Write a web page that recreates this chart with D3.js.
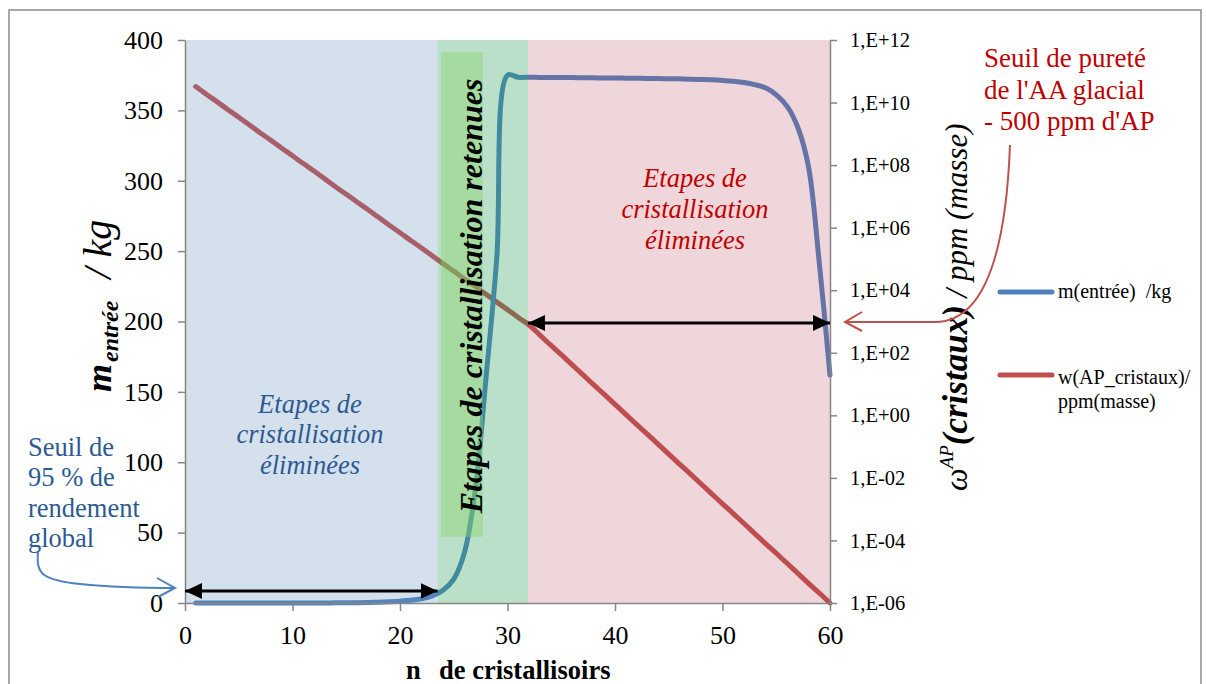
<!DOCTYPE html>
<html><head><meta charset="utf-8">
<script src="https://cdn.jsdelivr.net/npm/d3@7/dist/d3.min.js"></script>
<style>
body{margin:0;background:#fff}
svg{display:block}
text{font-family:"Liberation Serif","Times New Roman",serif}
</style>
</head><body>
<svg id="chart" width="1206" height="684"></svg>
<script>
// ---------- DATA ----------
const nCristallisoirs = [1,2,3,4,5,6,7,8,9,10,11,12,13,14,15,16,17,18,19,20,21,22,23,24,25,26,27,28,29,30,
  31,32,33,34,35,36,37,38,39,40,41,42,43,44,45,46,47,48,49,50,51,52,53,54,55,56,57,58,59,60];
// m(entrée) /kg  (left axis)
const mEntree = [0,0,0,0,0,0,0.01,0.01,0.01,0.02,0.03,0.05,0.08,0.1,0.15,0.22,0.35,0.6,0.9,1.3,
  1.9,3.0,5,9,17,36,80,160,245,375,
  373.5,373.5,373.4,373.4,373.3,373.3,373.2,373.1,373.0,373.0,372.9,372.8,372.7,372.6,372.5,372.4,372.2,372.0,371.7,371.3,
  370.7,369.8,368.3,366,361,353,338,310,242,162];
// w(AP_cristaux) / ppm(masse)  (right log axis)
const wAPcristaux = [3.24e10,1.82e10,1.05e10,5.89e9,3.39e9,1.91e9,1.07e9,6.17e8,3.47e8,2.00e8,
  1.12e8,6.46e7,3.63e7,2.04e7,1.17e7,6.61e6,3.80e6,2.14e6,1.20e6,6.92e5,
  3.89e5,2.24e5,1.26e5,7.08e4,4.07e4,2.29e4,1.32e4,7.41e3,4.17e3,2.40e3,
  1.35e3,776,372,178,87.1,41.7,20.0,9.55,4.68,2.24,
  1.07,0.513,0.251,0.120,0.0575,0.0275,0.0135,0.00646,0.00309,0.00148,
  7.24e-4,3.47e-4,1.66e-4,7.94e-5,3.89e-5,1.86e-5,8.91e-6,4.27e-6,2.09e-6,1.0e-6];
const xTicks = [0,10,20,30,40,50,60];
const leftTicks = [0,50,100,150,200,250,300,350,400];
const rightTicks = [1e-6,1e-4,1e-2,1e0,1e2,1e4,1e6,1e8,1e10,1e12];
const regionBounds = [0, 23.5, 31.9, 60];   // éliminées | retenues | éliminées
const legendLabels = [["m(entrée)  /kg"], ["w(AP_cristaux)/", "ppm(masse)"]];
const seriesColors = ["#4f81bd", "#c0504d"];

// ---------- SETUP ----------
const SERIF = '"Liberation Serif","Times New Roman",serif';
const svg = d3.select("#chart");
const x = d3.scaleLinear().domain([0, 60]).range([185, 830]);
const yL = d3.scaleLinear().domain([0, 400]).range([603, 40]);
const yR = d3.scaleLog().domain([1e-6, 1e12]).range([603, 40]);

// outer frame
svg.append("rect").attr("x", 9).attr("y", 10).attr("width", 1192).attr("height", 700)
  .attr("fill", "none").attr("stroke", "#8c8c8c").attr("stroke-width", 1.5);

// arrow markers
const defs = svg.append("defs");
defs.append("marker").attr("id", "ah").attr("markerUnits", "userSpaceOnUse")
  .attr("markerWidth", 20).attr("markerHeight", 18).attr("refX", 17).attr("refY", 8)
  .attr("orient", "auto-start-reverse")
  .append("path").attr("d", "M0,0 L17,8 L0,16 Z").attr("fill", "#000");

// ---------- LINES (under translucent bands) ----------
const dataM = nCristallisoirs.map((n, i) => ({n, v: mEntree[i]}));
const dataW = nCristallisoirs.map((n, i) => ({n, v: wAPcristaux[i]}));
const curve = d3.curveCatmullRom.alpha(0.5);
svg.append("path").datum(dataW)
  .attr("d", d3.line().x(d => x(d.n)).y(d => yR(d.v)).curve(curve))
  .attr("fill", "none").attr("stroke", seriesColors[1]).attr("stroke-width", 5).attr("stroke-linecap", "round");
svg.append("path").datum(dataM)
  .attr("d", d3.line().x(d => x(d.n)).y(d => yL(d.v)).curve(curve))
  .attr("fill", "none").attr("stroke", seriesColors[0]).attr("stroke-width", 5).attr("stroke-linecap", "round");

// ---------- BANDS ----------
const bandFill = [["rgb(100,140,190)", 0.27], ["rgb(40,160,90)", 0.32], ["rgb(180,70,85)", 0.22]];
for (let i = 0; i < 3; i++) {
  svg.append("rect")
    .attr("x", x(regionBounds[i])).attr("y", yL(400))
    .attr("width", x(regionBounds[i + 1]) - x(regionBounds[i]))
    .attr("height", yL(0) - yL(400))
    .attr("fill", bandFill[i][0]).attr("fill-opacity", bandFill[i][1]);
}
// inner bright green box behind the vertical label
svg.append("rect")
  .attr("x", x(23.8)).attr("y", yL(391.5))
  .attr("width", x(27.7) - x(23.8)).attr("height", yL(47) - yL(391.5))
  .attr("fill", "rgb(140,210,110)").attr("fill-opacity", 0.45);

// ---------- AXES ----------
const axisColor = "#868686";
function styleAxis(g, size) {
  g.attr("font-family", null);
  g.select(".domain").attr("stroke", axisColor).attr("stroke-width", 1.5);
  g.selectAll(".tick line").attr("stroke", axisColor).attr("stroke-width", 1.5);
  g.selectAll(".tick text").attr("fill", "#000").style("font-size", size + "px");
}
const gL = svg.append("g").attr("transform", `translate(${x(0)},0)`)
  .call(d3.axisLeft(yL).tickValues(leftTicks).tickSize(7).tickPadding(15).tickSizeOuter(0));
styleAxis(gL, 26);
const gR = svg.append("g").attr("transform", `translate(${x(60)},0)`)
  .call(d3.axisRight(yR).tickValues(rightTicks).tickSize(7).tickPadding(13).tickSizeOuter(0)
    .tickFormat(d => { const e = Math.round(Math.log10(d)); return "1,E" + (e >= 0 ? "+" : "-") + String(Math.abs(e)).padStart(2, "0"); }));
styleAxis(gR, 20.5);
const gB = svg.append("g").attr("transform", `translate(0,${yL(0)})`)
  .call(d3.axisBottom(x).tickValues(xTicks).tickSize(8).tickPadding(15).tickSizeOuter(0));
styleAxis(gB, 26);

// ---------- AXIS TITLES ----------
const tl = svg.append("text").attr("transform", "translate(111,392) rotate(-90)").attr("text-anchor", "start");
tl.append("tspan").text("m").style("font-weight", "bold").style("font-style", "italic").style("font-size", "36px");
tl.append("tspan").text("entrée").attr("dx", 2).attr("dy", 7).style("font-weight", "bold").style("font-style", "italic").style("font-size", "24px");
tl.append("tspan").text(" / kg").attr("dx", 12).attr("dy", -7).style("font-style", "italic").style("font-size", "40px");

const tr = svg.append("text").attr("transform", "translate(967,491) rotate(-90)").attr("text-anchor", "start");
tr.append("tspan").text("ω").style("font-style", "italic").style("font-size", "32px");
tr.append("tspan").text("AP").attr("dy", -14).style("font-style", "italic").style("font-size", "19px");
tr.append("tspan").text("(cristaux)").attr("dy", 14).style("font-weight", "bold").style("font-style", "italic").style("font-size", "35px");
tr.append("tspan").text(" / ppm (masse)").style("font-style", "italic").style("font-size", "31px");

const tb = svg.append("text").attr("y", 679).style("font-weight", "bold").style("font-size", "26.5px");
tb.append("tspan").attr("x", 406).text("n");
tb.append("tspan").attr("x", 439).text("de cristallisoirs");

// ---------- REGION LABELS ----------
const blueTxt = "#2c5a92", redTxt = "#c00000";
[["Etapes de", 413], ["cristallisation", 443], ["éliminées", 474]].forEach(([t, yy]) =>
  svg.append("text").attr("x", 310).attr("y", yy).attr("text-anchor", "middle")
    .style("font-style", "italic").style("font-size", "26.5px").attr("fill", blueTxt).text(t));
[["Etapes de", 187], ["cristallisation", 218], ["éliminées", 249]].forEach(([t, yy]) =>
  svg.append("text").attr("x", 695).attr("y", yy).attr("text-anchor", "middle")
    .style("font-style", "italic").style("font-size", "26.5px").attr("fill", redTxt).text(t));
svg.append("text").attr("transform", "translate(482,296) rotate(-90)").attr("text-anchor", "middle")
  .style("font-style", "italic").style("font-weight", "bold").style("font-size", "32px").attr("fill", "#000")
  .text("Etapes de cristallisation retenues");

// ---------- ANNOTATIONS ----------
[["Seuil de pureté", 67], ["de l'AA glacial", 98.5], ["- 500 ppm d'AP", 130]].forEach(([t, yy]) =>
  svg.append("text").attr("x", 984).attr("y", yy).style("font-size", "27px").attr("fill", redTxt).text(t));
[["Seuil de", 456], ["95 % de", 486], ["rendement", 516.5], ["global", 546.5]].forEach(([t, yy]) =>
  svg.append("text").attr("x", 28).attr("y", yy).style("font-size", "26.5px").attr("fill", blueTxt).text(t));

// red curved arrow
svg.append("path").attr("d", "M1010,145 C1006,250 985,322 935,322 L845,322")
  .attr("fill", "none").attr("stroke", "#c0504d").attr("stroke-width", 2);
svg.append("path").attr("d", "M862,312 L845,322 L862,331")
  .attr("fill", "none").attr("stroke", "#c0504d").attr("stroke-width", 2);
// blue curved arrow
svg.append("path").attr("d", "M38,552 C36,574 42,580 80,584 C120,588 150,588 175,588")
  .attr("fill", "none").attr("stroke", "#4f81bd").attr("stroke-width", 2);
svg.append("path").attr("d", "M157,578 L175,588 L158,597")
  .attr("fill", "none").attr("stroke", "#4f81bd").attr("stroke-width", 2);

// black double arrows
svg.append("line").attr("x1", x(0)).attr("x2", x(regionBounds[1])).attr("y1", 591).attr("y2", 591)
  .attr("stroke", "#000").attr("stroke-width", 3).attr("marker-start", "url(#ah)").attr("marker-end", "url(#ah)");
svg.append("line").attr("x1", x(regionBounds[2])).attr("x2", x(60)).attr("y1", yR(900)).attr("y2", yR(900))
  .attr("stroke", "#000").attr("stroke-width", 3).attr("marker-start", "url(#ah)").attr("marker-end", "url(#ah)");

// ---------- LEGEND ----------
const legY = [[292, [298]], [375, [384, 408]]];
legY.forEach(([ly, tys], i) => {
  svg.append("line").attr("x1", 1000).attr("x2", 1052).attr("y1", ly).attr("y2", ly)
    .attr("stroke", seriesColors[i]).attr("stroke-width", 5).attr("stroke-linecap", "round");
  legendLabels[i].forEach((t, j) =>
    svg.append("text").attr("x", 1058).attr("y", tys[j]).style("font-size", "20px")
      .style("white-space", "pre").attr("fill", "#000").text(t));
});

svg.selectAll("text").style("font-family", SERIF);
</script>
</body></html>
